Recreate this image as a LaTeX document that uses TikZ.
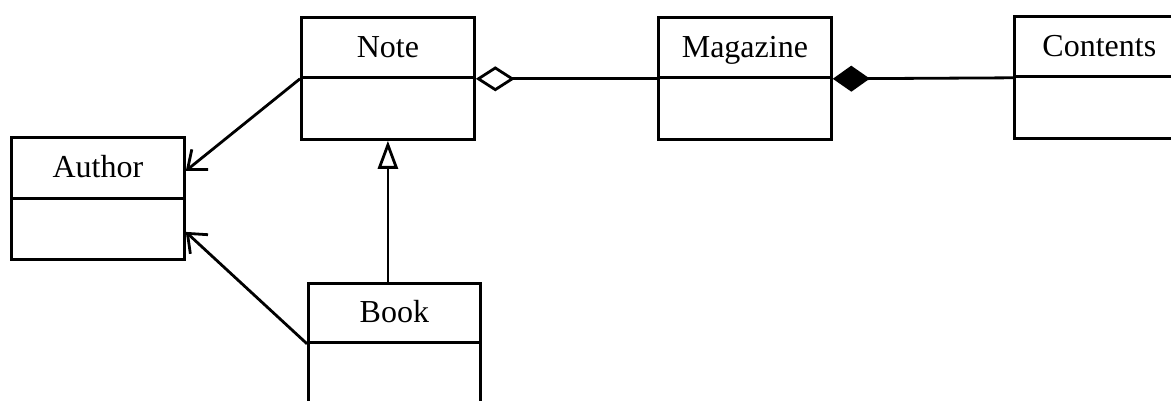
\documentclass[tikz,border=0pt]{standalone}
\usepackage{fontspec}
\setmainfont{Liberation Serif}
\usetikzlibrary{arrows.meta}
\begin{document}
\begin{tikzpicture}[x=1pt,y=-1pt,
  head/.style={draw,line width=2.8pt,minimum height=60pt,inner sep=0pt,text height=22pt,text depth=2pt,font=\fontsize{32}{34}\selectfont,anchor=north west},
  body/.style={draw,line width=2.8pt,inner sep=0pt,anchor=north west},
  conn/.style={line width=2.8pt},
  assoc/.style={conn,-{Straight Barb[length=16pt,width=26pt,line width=2.8pt]}},
  inherit/.style={conn,-{Triangle[open,length=28pt,width=20pt,line width=2.8pt]}},
  aggr/.style={conn,{Diamond[open,length=39pt,width=25pt,line width=2.8pt]}-},
  comp/.style={conn,{Diamond[length=37pt,width=26pt]}-}]
\useasboundingbox (0,0) rectangle (1171,401);
\clip (0,0) rectangle (1171,401);
% Note
\node[head,minimum width=173pt] (noteh) at (300,16) {Note};
\node[body,minimum width=173pt,minimum height=62pt] (noteb) at (300,76) {};
% Magazine
\node[head,minimum width=173pt] (magh) at (657,16) {Magazine};
\node[body,minimum width=173pt,minimum height=62pt] (magb) at (657,76) {};
% Contents
\node[head,minimum width=173pt,text width=173pt,align=left] (conth) at (1013,15) {\hspace{28pt}Contents};
\node[body,minimum width=173pt,minimum height=62pt] (contb) at (1013,75) {};
% Author
\node[head,minimum width=173pt,minimum height=61pt] (authh) at (10,136) {Author};
\node[body,minimum width=173pt,minimum height=61pt] (authb) at (10,197) {};
% Book
\node[head,minimum width=172pt,minimum height=59pt] (bookh) at (307,282) {Book};
\node[body,minimum width=172pt,minimum height=80pt] (bookb) at (307,341) {};
% connectors
\coordinate (a1) at ([yshift=-3pt]authh.east);
\coordinate (a2) at ([yshift=-3pt]authb.east);
\draw[assoc] (noteh.south west) -- (a1);
\draw[assoc] (bookh.south west) -- (a2);
\draw[inherit] (noteb.south |- bookh.north) -- (noteb.south);
\draw[aggr] (noteh.south east) -- (magh.south west);
\draw[comp] (magh.south east) -- (conth.south west);
\end{tikzpicture}
\end{document}
